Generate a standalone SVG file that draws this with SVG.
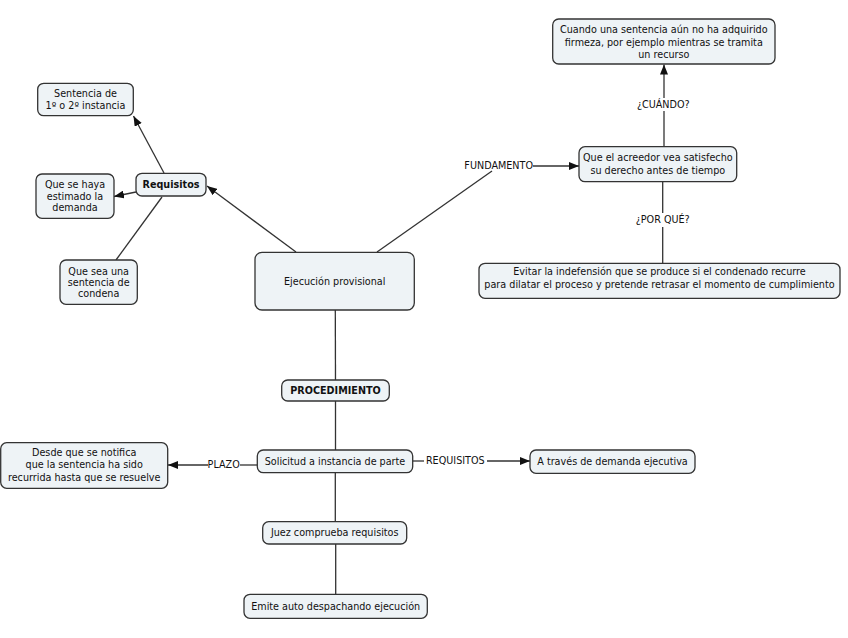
<svg xmlns="http://www.w3.org/2000/svg" width="848" height="638" viewBox="0 0 848 638">
<style>
.n{fill:#eef3f6;stroke:#333;stroke-width:1.3}
.t{font-family:"DejaVu Sans",Verdana,sans-serif;font-size:9.65px;fill:#111;text-anchor:middle}
.b{font-weight:bold}
.c line{stroke:#333;stroke-width:1.3;fill:none}
.a{marker-end:url(#ah)}
</style>
<defs>
<marker id="ah" viewBox="0 0 10 8" refX="10" refY="4" markerWidth="10" markerHeight="8" markerUnits="userSpaceOnUse" orient="auto">
<path d="M0,0 L10,4 L0,8 z" fill="#111"/>
</marker>
</defs>
<rect width="848" height="638" fill="#fff"/>
<g class="c" id="connectors">
<line class="a" x1="296" y1="252" x2="207" y2="186"/>
<line class="a" x1="164" y1="173" x2="133.5" y2="116"/>
<line class="a" x1="136" y1="192" x2="114" y2="196.5"/>
<line x1="162" y1="197" x2="116" y2="260"/>
<line x1="377" y1="252" x2="492" y2="171"/>
<line class="a" x1="533" y1="166" x2="579" y2="166"/>
<line x1="664" y1="146.7" x2="664" y2="111"/>
<line class="a" x1="664" y1="98" x2="664" y2="64.5"/>
<line x1="662.7" y1="181.7" x2="662.7" y2="213"/>
<line x1="662.7" y1="227" x2="662.7" y2="263.3"/>
<line x1="335.3" y1="310" x2="335.5" y2="380"/>
<line x1="335.5" y1="401" x2="335.5" y2="450"/>
<line x1="257.3" y1="465" x2="240" y2="465"/>
<line class="a" x1="208" y1="465" x2="168" y2="465"/>
<line x1="412.7" y1="461" x2="424" y2="461"/>
<line class="a" x1="487" y1="461" x2="530" y2="461"/>
<line x1="335.3" y1="472.7" x2="335.3" y2="521.7"/>
<line x1="335.7" y1="544" x2="335.7" y2="594.3"/>
<g id="link-labels">
<text class="t" x="498.7" y="169.2">FUNDAMENTO</text>
<text class="t" x="663.3" y="107.5">¿CUÁNDO?</text>
<text class="t" x="662.7" y="223.3">¿POR QUÉ?</text>
<text class="t" x="223.7" y="468.3">PLAZO</text>
<text class="t" x="455.3" y="464">REQUISITOS</text>
</g>
</g>
<g id="sentencia"><rect class="n" x="37.7" y="83.3" width="95.6" height="32.4" rx="6"/>
<text class="t" x="85.5" y="97.3">Sentencia de</text><text class="t" x="85.5" y="108.8">1º o 2º instancia</text></g>
<g id="requisitos"><rect class="n" x="136" y="173.3" width="70" height="22.7" rx="6"/>
<text class="t b" x="171" y="188.2">Requisitos</text></g>
<g id="estimado"><rect class="n" x="36" y="174" width="78" height="44.3" rx="6"/>
<text class="t" x="75" y="188.3">Que se haya</text><text class="t" x="75" y="199.8">estimado la</text><text class="t" x="75" y="211.3">demanda</text></g>
<g id="condena"><rect class="n" x="60" y="260" width="77.3" height="44.3" rx="6"/>
<text class="t" x="98.7" y="274.6">Que sea una</text><text class="t" x="98.7" y="286">sentencia de</text><text class="t" x="98.7" y="297.4">condena</text></g>
<g id="ejecucion"><rect class="n" x="255" y="252.3" width="159.3" height="57.7" rx="7"/>
<text class="t" x="334.7" y="284.5">Ejecución provisional</text></g>
<g id="cuando"><rect class="n" x="552.7" y="19" width="222.3" height="45" rx="6"/>
<text class="t" x="663.8" y="33.3">Cuando una sentencia aún no ha adquirido</text><text class="t" x="663.8" y="45.8">firmeza, por ejemplo mientras se tramita</text><text class="t" x="663.8" y="58.3">un recurso</text></g>
<g id="acreedor"><rect class="n" x="579" y="146.7" width="157.7" height="35" rx="6"/>
<text class="t" x="657.8" y="161">Que el acreedor vea satisfecho</text><text class="t" x="657.8" y="173.5">su derecho antes de tiempo</text></g>
<g id="evitar"><rect class="n" x="479" y="263.3" width="361" height="35" rx="6"/>
<text class="t" x="659.5" y="275">Evitar la indefensión que se produce si el condenado recurre</text><text class="t" x="659.5" y="287.5">para dilatar el proceso y pretende retrasar el momento de cumplimiento</text></g>
<g id="procedimiento"><rect class="n" x="281.7" y="380" width="107.6" height="21" rx="6"/>
<text class="t b" x="335.5" y="393.8">PROCEDIMIENTO</text></g>
<g id="solicitud"><rect class="n" x="257.3" y="450" width="155.4" height="22.7" rx="6"/>
<text class="t" x="335" y="464.6">Solicitud a instancia de parte</text></g>
<g id="demanda"><rect class="n" x="530" y="450" width="165" height="23.3" rx="6"/>
<text class="t" x="612.5" y="465">A través de demanda ejecutiva</text></g>
<g id="desde"><rect class="n" x="0.7" y="442.7" width="167" height="45.6" rx="6"/>
<text class="t" x="84.2" y="456">Desde que se notifica</text><text class="t" x="84.2" y="468.3">que la sentencia ha sido</text><text class="t" x="84.2" y="480.6">recurrida hasta que se resuelve</text></g>
<g id="juez"><rect class="n" x="262.7" y="521.7" width="144" height="22.3" rx="6"/>
<text class="t" x="334.7" y="536.3">Juez comprueba requisitos</text></g>
<g id="emite"><rect class="n" x="244" y="594.3" width="183.3" height="24" rx="6"/>
<text class="t" x="335.7" y="609.6">Emite auto despachando ejecución</text></g>
</svg>
